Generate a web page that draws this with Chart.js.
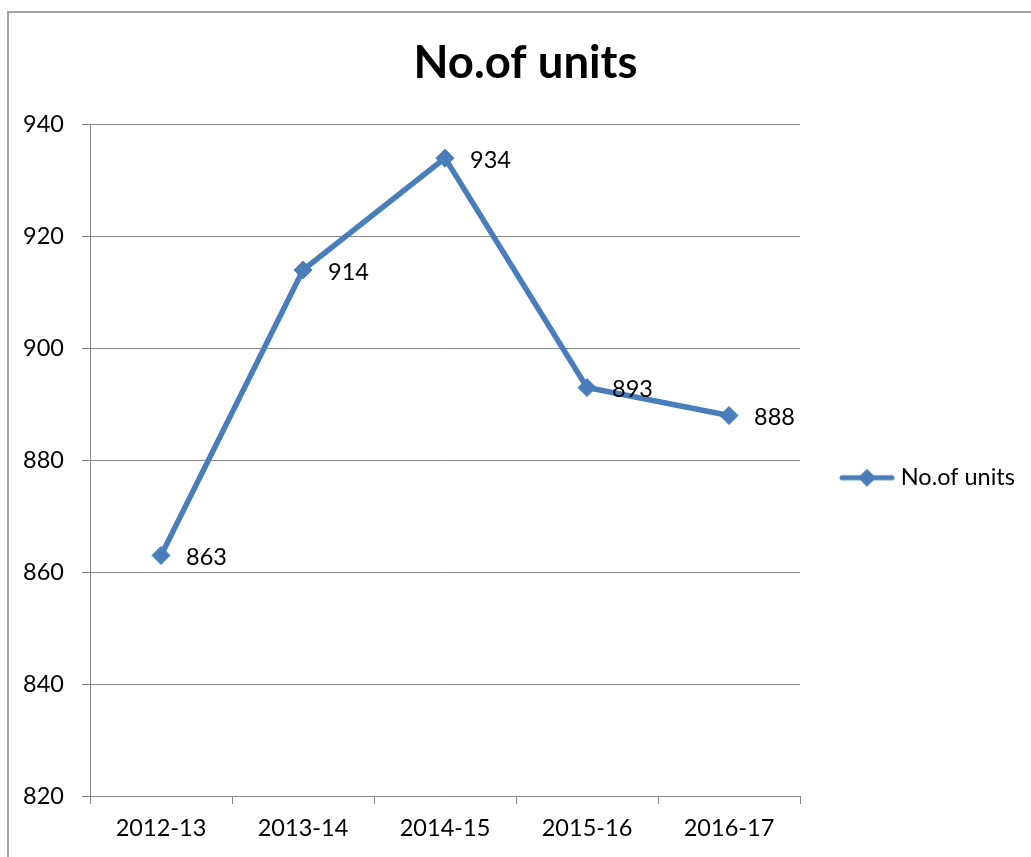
<!DOCTYPE html>
<html>
<head>
<meta charset="utf-8">
<script src="https://cdn.jsdelivr.net/npm/chart.js@4/dist/chart.umd.min.js"></script>
<style>
  html, body { margin: 0; padding: 0; background: #fff; }
  canvas { display: block; }
</style>
</head>
<body>
<canvas id="chart" width="1031" height="857"></canvas>
<script>
const years = ['2012-13', '2013-14', '2014-15', '2015-16', '2016-17'];
const units = [863, 914, 934, 893, 888];
const yTicks = [820, 840, 860, 880, 900, 920, 940];

const blue = '#4A7EBB';
const gray = '#868686';
const fontFamily = 'Lato, "Open Sans", sans-serif';

// legend swatch: a line with a diamond on it
function legendSwatch() {
  const c = document.createElement('canvas');
  c.width = 56;
  c.height = 20;
  const ctx = c.getContext('2d');
  ctx.strokeStyle = blue;
  ctx.lineWidth = 5;
  ctx.lineCap = 'round';
  ctx.beginPath();
  ctx.moveTo(3, 10);
  ctx.lineTo(53, 10);
  ctx.stroke();
  ctx.fillStyle = blue;
  ctx.beginPath();
  ctx.moveTo(28, 1);
  ctx.lineTo(37, 10);
  ctx.lineTo(28, 19);
  ctx.lineTo(19, 10);
  ctx.closePath();
  ctx.fill();
  return c;
}
const swatch = legendSwatch();

const frame = {
  id: 'frame',
  beforeDraw(chart) {
    const ctx = chart.ctx;
    ctx.save();
    ctx.strokeStyle = gray;
    ctx.lineWidth = 1.5;
    ctx.strokeRect(8, 12, 1200, 1000);
    ctx.restore();
  }
};

const boxes = {
  id: 'boxes',
  beforeLayout(chart) {
    const lg = chart.legend;
    if (lg && !lg._patched) {
      const fit = lg.fit;
      lg.fit = function () {
        fit.call(this);
        this.width = 231;
      };
      lg._patched = true;
    }
  },
  afterLayout(chart) {
    const lg = chart.legend;
    lg.left = 835;
    lg.right = 1031;
    lg.top = 456;
    lg.bottom = 500;
    // title sits over the whole frame, which starts at x=8 and runs past the edge
    const t = chart.titleBlock;
    t.left = 20;
    t.right = 1031;
  }
};

const pointLabels = {
  id: 'pointLabels',
  afterDatasetsDraw(chart) {
    const ctx = chart.ctx;
    const meta = chart.getDatasetMeta(0);
    ctx.save();
    ctx.font = '23.5px ' + fontFamily;
    ctx.fillStyle = '#000';
    ctx.textAlign = 'left';
    ctx.textBaseline = 'middle';
    meta.data.forEach((pt, i) => {
      ctx.fillText(String(units[i]), pt.x + 25, pt.y + 2);
    });
    ctx.restore();
  }
};

new Chart(document.getElementById('chart'), {
  type: 'line',
  data: {
    labels: years,
    datasets: [{
      label: 'No.of units',
      data: units,
      borderColor: blue,
      backgroundColor: blue,
      borderWidth: 5.5,
      tension: 0,
      pointStyle: 'rectRot',
      pointRadius: 9,
      pointBorderWidth: 1,
      pointBackgroundColor: blue,
      pointBorderColor: blue
    }]
  },
  options: {
    responsive: false,
    devicePixelRatio: 1,
    animation: false,
    layout: { padding: 0 },
    plugins: {
      title: {
        display: true,
        text: 'No.of units',
        color: '#000',
        font: { family: fontFamily, size: 45.5, weight: 'bold' },
        padding: { top: 36, bottom: 34 }
      },
      legend: {
        position: 'right',
        align: 'start',
        labels: {
          usePointStyle: true,
          pointStyleWidth: 44,
          padding: 10,
          color: '#000',
          font: { family: fontFamily, size: 23.5 },
          generateLabels: chart => [{
            text: chart.data.datasets[0].label,
            pointStyle: swatch,
            fillStyle: blue,
            strokeStyle: blue,
            lineWidth: 0,
            fontColor: '#000',
            datasetIndex: 0
          }]
        }
      },
      tooltip: { enabled: false }
    },
    scales: {
      x: {
        offset: true,
        grid: { drawOnChartArea: false, color: gray, tickLength: 8, offset: true },
        border: { color: gray, width: 1 },
        ticks: { color: '#000', padding: 10, font: { family: fontFamily, size: 23.5 } },
        afterFit: s => { s.height = 61; }
      },
      y: {
        min: 820,
        max: 940,
        afterBuildTicks: s => { s.ticks = yTicks.map(v => ({ value: v })); },
        grid: { color: gray, tickLength: 8, lineWidth: 1 },
        border: { color: gray, width: 1 },
        ticks: { color: '#000', padding: 18, font: { family: fontFamily, size: 23.5 } },
        afterFit: s => { s.width = 90; }
      }
    }
  },
  plugins: [frame, boxes, pointLabels]
});
</script>
</body>
</html>
